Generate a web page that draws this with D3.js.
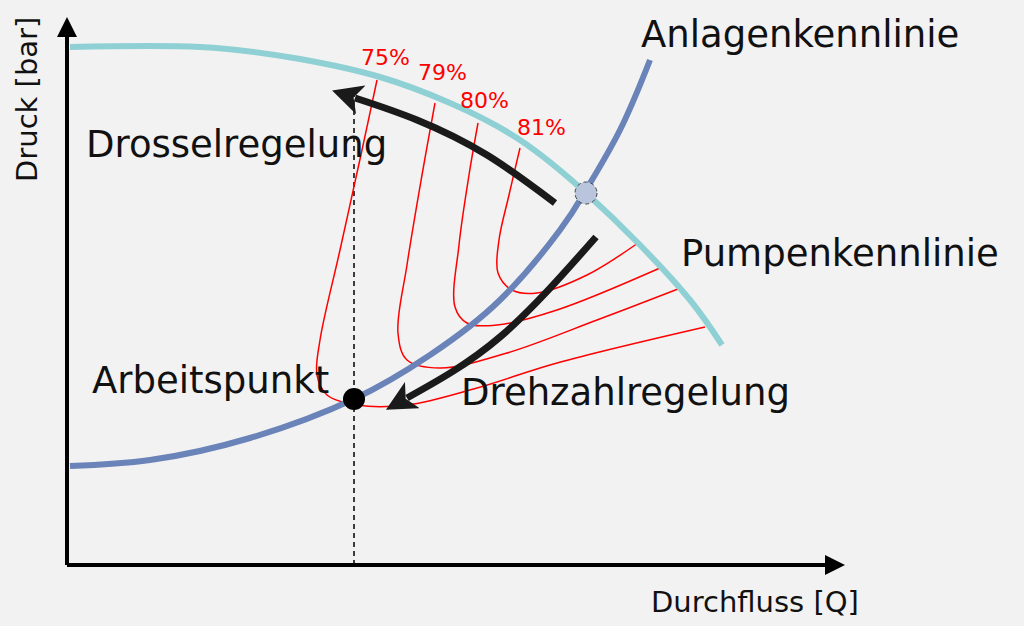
<!DOCTYPE html><html><head><meta charset="utf-8"><script src="https://cdn.jsdelivr.net/npm/d3@7"></script>
<style>body{margin:0;background:#f2f2f2}svg{display:block}text{font-family:"DejaVu Sans",sans-serif}</style></head><body><svg id="c" width="1024" height="626"></svg>
<script>
// data units: Q (flow), H (pressure)
const pumpCurve=[[3,518],[133,518],[233,506],[313,488],[383,462],[453,425],[519,372],[573,320],[623,265],[655,220]];
const systemCurve=[[3,99],[83,105],[183,127],[287,166],[363,210],[433,265],[493,335],[519,375],[553,435],[583,505]];
const eff75=[[310,485],[295,415],[273,315],[253,225],[250,190],[260,170],[290,160],[340,160],[410,177],[490,202],[638,238]];
const eff79=[[368,462],[355,390],[340,300],[331,232],[340,205],[373,197],[440,212],[530,245],[611,276]];
const eff80=[[411,442],[402,390],[392,320],[388,258],[400,242],[430,240],[490,255],[593,297]];
const eff81=[[453,417],[442,370],[432,325],[431,292],[445,275],[470,272],[520,290],[571,322]];
const effCurves=[eff75,eff79,eff80,eff81];
const effLabels=["75%","79%","80%","81%"];
const effLabelPos=[[294,500],[351,485],[393,457],[450,430]];
const workPoint=[287,166], designPoint=[519,372];
const throttleArrow=[[488,362],[420,410],[350,445],[288,467]];
const speedArrow=[[529,328],[433,228],[340,167]];

const svg=d3.select("#c");
const x=d3.scaleLinear().domain([0,800]).range([67,867]);
const y=d3.scaleLinear().domain([0,560]).range([565,5]);
const line=d3.line().x(d=>x(d[0])).y(d=>y(d[1])).curve(d3.curveCatmullRom.alpha(0.5));
const smooth=d3.line().x(d=>x(d[0])).y(d=>y(d[1])).curve(d3.curveNatural);
const defs=svg.append("defs");
defs.append("marker").attr("id","ah").attr("viewBox","0 0 10 10").attr("refX",2).attr("refY",5)
 .attr("markerWidth",4.3).attr("markerHeight",4.3).attr("orient","auto").attr("markerUnits","strokeWidth")
 .append("path").attr("d","M0,0L10,5L0,10L2.5,5Z").attr("fill","#1a1a1a");
defs.append("marker").attr("id","ax").attr("viewBox","0 0 10 10").attr("refX",1).attr("refY",5)
 .attr("markerWidth",6).attr("markerHeight",5).attr("orient","auto").attr("markerUnits","strokeWidth")
 .append("path").attr("d","M0,0L10,5L0,10Z").attr("fill","#000");
svg.append("line").attr("x1",x(0)).attr("y1",y(0)).attr("x2",x(0)).attr("y2",y(530)).attr("stroke","#000").attr("stroke-width",4).attr("marker-end","url(#ax)");
svg.append("line").attr("x1",x(0)).attr("y1",y(0)).attr("x2",x(760)).attr("y2",y(0)).attr("stroke","#000").attr("stroke-width",4).attr("marker-end","url(#ax)");
svg.append("line").attr("x1",x(workPoint[0])).attr("x2",x(workPoint[0])).attr("y1",y(0)).attr("y2",y(475)).attr("stroke","#000").attr("stroke-width",1.5).attr("stroke-dasharray","5,4");
effCurves.forEach(c=>svg.append("path").attr("d",line(c)).attr("fill","none").attr("stroke","#ff0000").attr("stroke-width",1.5));
svg.append("path").attr("d",smooth(systemCurve)).attr("fill","none").attr("stroke","#6a83b8").attr("stroke-width",6);
svg.append("path").attr("d",smooth(pumpCurve)).attr("fill","none").attr("stroke","#8fd0d4").attr("stroke-width",6);
effLabels.forEach((t,i)=>svg.append("text").attr("x",x(effLabelPos[i][0])).attr("y",y(effLabelPos[i][1])).attr("fill","#ff0000").attr("font-size",22).text(t));
[throttleArrow,speedArrow].forEach(a=>svg.append("path").attr("d",smooth(a)).attr("fill","none").attr("stroke","#1a1a1a").attr("stroke-width",7).attr("marker-end","url(#ah)"));
svg.append("circle").attr("cx",x(workPoint[0])).attr("cy",y(workPoint[1])).attr("r",11).attr("fill","#000");
svg.append("circle").attr("cx",x(designPoint[0])).attr("cy",y(designPoint[1])).attr("r",11).attr("fill","#b9c5dd").attr("stroke","#444").attr("stroke-width",1).attr("stroke-dasharray","4,3");
const T=(s,xx,yy,fs)=>svg.append("text").attr("x",xx).attr("y",yy).attr("font-size",fs).attr("fill","#111").text(s);
T("Drosselregelung",86,157,37);T("Anlagenkennlinie",641,47,37);T("Pumpenkennlinie",681,266,37);
T("Arbeitspunkt",92,393,37);T("Drehzahlregelung",461,405,37);T("Durchfluss [Q]",651,612,29);
svg.append("text").attr("transform","translate(37,182) rotate(-90)").attr("font-size",29).attr("fill","#111").text("Druck [bar]");
</script></body></html>
